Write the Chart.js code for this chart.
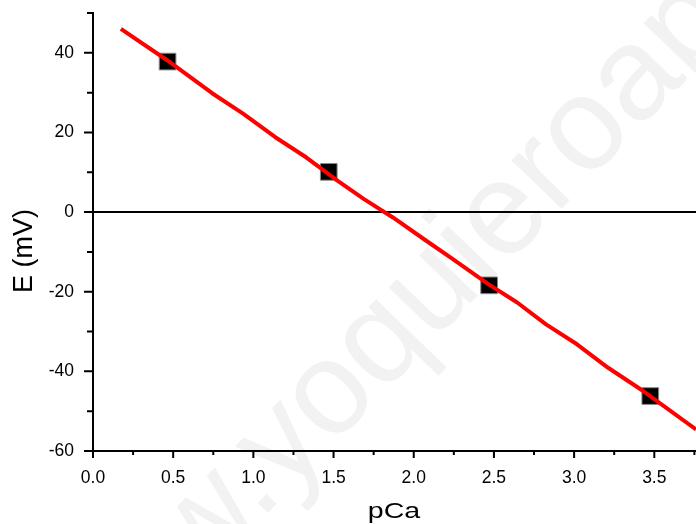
<!DOCTYPE html>
<html><head><meta charset="utf-8">
<script src="https://cdn.jsdelivr.net/npm/chart.js@4/dist/chart.umd.min.js"></script>
<style>html,body{margin:0;padding:0;background:#fff;overflow:hidden}</style>
</head><body>
<canvas id="c" width="696" height="524" style="width:696px;height:524px;display:block"></canvas>
<script>
// Fitted calibration line
const fitX = [0.174, 0.46, 0.743, 0.938, 1.137, 1.331, 1.524, 1.69, 1.87, 2.078, 2.244, 2.465, 2.645, 2.825, 3.018, 3.212, 3.433, 3.76];
const fitY = [46.0, 38.2, 29.85, 24.65, 18.8, 13.7, 7.9, 3.26, -1.35, -7.2, -11.8, -18.1, -22.7, -28.2, -33.2, -39.1, -45.0, -54.6];
// Measured points
const pCa = [0.465, 1.47, 2.47, 3.475];
const E = [37.8, 10.1, -18.4, -46.2];
// Ticks
const xMajor = [0, 0.5, 1.0, 1.5, 2.0, 2.5, 3.0, 3.5];
const xTickLabels = ['0.0', '0.5', '1.0', '1.5', '2.0', '2.5', '3.0', '3.5'];
const xMinor = [0.25, 0.75, 1.25, 1.75, 2.25, 2.75, 3.25, 3.75];
const yMajor = [-60, -40, -20, 0, 20, 40];
const yTickLabels = ['-60', '-40', '-20', '0', '20', '40'];
const yMinor = [-50, -30, -10, 10, 30, 50];
const xTitle = 'pCa';
const yTitle = 'E (mV)';
const watermark = 'www.yoquieroaprobar.es';

const FONT = '"Liberation Sans", Arial, sans-serif';

const decor = {
  id: 'decor',
  beforeDraw(chart) {
    const ctx = chart.ctx;
    ctx.save();
    ctx.fillStyle = '#fff';
    ctx.fillRect(0, 0, chart.width, chart.height);
    ctx.translate(66, 722);
    ctx.rotate(-46 * Math.PI / 180);
    ctx.font = '132px ' + FONT;
    ctx.fillStyle = '#f2f2f2';
    ctx.textBaseline = 'alphabetic';
    ctx.fillText(watermark, 0, 0);
    ctx.restore();
  },
  beforeDatasetsDraw(chart) {
    const ctx = chart.ctx, a = chart.chartArea, y = chart.scales.y;
    const py = Math.round(y.getPixelForValue(0));
    ctx.save();
    ctx.strokeStyle = '#000';
    ctx.lineWidth = 2;
    ctx.beginPath();
    ctx.moveTo(a.left, py);
    ctx.lineTo(chart.width, py);
    ctx.stroke();
    ctx.restore();
  },
  afterDraw(chart) {
    const ctx = chart.ctx, a = chart.chartArea, xs = chart.scales.x, ys = chart.scales.y;
    ctx.save();
    ctx.strokeStyle = '#000';
    ctx.lineWidth = 2;
    ctx.beginPath();
    xMajor.forEach(v => { const p = xs.getPixelForValue(v); ctx.moveTo(p, a.bottom); ctx.lineTo(p, a.bottom + 7); });
    xMinor.forEach(v => { const p = xs.getPixelForValue(v); if (p <= chart.width) { ctx.moveTo(p, a.bottom); ctx.lineTo(p, a.bottom + 4); } });
    yMajor.forEach(v => { const p = ys.getPixelForValue(v); ctx.moveTo(a.left, p); ctx.lineTo(a.left - 9, p); });
    yMinor.forEach(v => { const p = ys.getPixelForValue(v); ctx.moveTo(a.left, p); ctx.lineTo(a.left - 6, p); });
    ctx.stroke();
    // axis titles
    ctx.fillStyle = '#000';
    ctx.font = '22px ' + FONT;
    ctx.textAlign = 'center';
    ctx.textBaseline = 'alphabetic';
    ctx.save();
    ctx.translate(394, 518);
    ctx.scale(1.3, 1);
    ctx.fillText(xTitle, 0, 0);
    ctx.restore();
    ctx.save();
    ctx.font = '27px ' + FONT;
    ctx.translate(32, 251);
    ctx.rotate(-Math.PI / 2);
    ctx.fillText(yTitle, 0, 0);
    ctx.restore();
    ctx.restore();
  }
};

function zeroPad(s) { s.paddingTop = 0; s.paddingBottom = 0; s.paddingLeft = 0; s.paddingRight = 0; }

new Chart(document.getElementById('c'), {
  type: 'scatter',
  data: {
    datasets: [
      {
        data: fitX.map((x, i) => ({ x, y: fitY[i] })),
        showLine: true,
        borderColor: '#ff0000',
        borderWidth: 4,
        pointRadius: 0,
        tension: 0,
        borderJoinStyle: 'round',
        borderCapStyle: 'butt',
        clip: false
      },
      {
        data: pCa.map((x, i) => ({ x, y: E[i] })),
        showLine: false,
        pointStyle: 'rect',
        pointRadius: 11.8,
        backgroundColor: '#000',
        borderColor: '#8a8a8a',
        borderWidth: 1,
        clip: false
      }
    ]
  },
  options: {
    responsive: false,
    devicePixelRatio: 1,
    animation: false,
    layout: { autoPadding: false, padding: { top: 13, right: 0, left: 0, bottom: 0 } },
    plugins: { legend: { display: false }, tooltip: { enabled: false } },
    scales: {
      x: {
        type: 'linear', min: 0, max: 3.76,
        afterBuildTicks: s => { s.ticks = xMajor.map(v => ({ value: v })); },
        afterFit: s => { s.height = 73; zeroPad(s); },
        grid: { display: true, drawOnChartArea: false, drawTicks: true, tickLength: 8, color: 'rgba(0,0,0,0)' },
        border: { display: true, color: '#000', width: 2 },
        ticks: { padding: 9, color: '#000', font: { family: FONT, size: 17.5 }, maxRotation: 0, autoSkip: false,
          callback: (v, i) => xTickLabels[i] }
      },
      y: {
        type: 'linear', min: -60, max: 50,
        afterBuildTicks: s => { s.ticks = yMajor.map(v => ({ value: v })); },
        afterFit: s => { s.width = 93; zeroPad(s); },
        grid: { display: true, drawOnChartArea: false, drawTicks: true, tickLength: 8, color: 'rgba(0,0,0,0)' },
        border: { display: true, color: '#000', width: 2 },
        ticks: { padding: 11, color: '#000', font: { family: FONT, size: 17.5 }, autoSkip: false,
          callback: (v, i) => yTickLabels[i] }
      }
    }
  },
  plugins: [decor]
});
</script>
</body></html>
